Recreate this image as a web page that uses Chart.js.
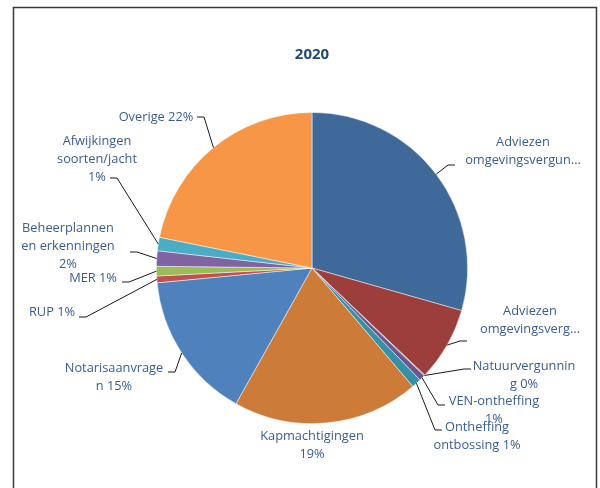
<!DOCTYPE html>
<html>
<head>
<meta charset="utf-8">
<script src="https://cdn.jsdelivr.net/npm/chart.js@4.4.1/dist/chart.umd.min.js"></script>
<style>
  html, body { margin: 0; padding: 0; background: #fff; }
  #wrap { width: 600px; height: 488px; }
</style>
</head>
<body>
<div id="wrap"><canvas id="myChart" width="600" height="488"></canvas></div>
<script>
// categories (full names) and their share in 2020
const categories = [
    'Adviezen omgevingsvergunning (1)', 'Adviezen omgevingsvergunning (2)', 'Natuurvergunning',
    'VEN-ontheffing', 'Ontheffing ontbossing', 'Kapmachtigingen', 'Notarisaanvragen',
    'RUP', 'MER', 'Beheerplannen en erkenningen', 'Afwijkingen soorten/jacht', 'Overige'
];
const values = [29.5, 7.7, 0.1, 0.6, 1.0, 19.4, 15.4, 0.7, 1.0, 1.6, 1.4, 21.9];
// label text as wrapped in the picture, {p} = percentage
const labelLines = [
    ['Adviezen', 'omgevingsvergun...'],
    ['Adviezen', 'omgevingsverg...'],
    ['Natuurvergunnin', 'g {p}'],
    ['VEN-ontheffing', '{p}'],
    ['Ontheffing', 'ontbossing {p}'],
    ['Kapmachtigingen', '{p}'],
    ['Notarisaanvrage', 'n {p}'],
    ['RUP {p}'],
    ['MER {p}'],
    ['Beheerplannen', 'en erkenningen', '{p}'],
    ['Afwijkingen', 'soorten/jacht', '{p}'],
    ['Overige {p}']
];

const colors = ['#3F6999', '#9C3F3C', '#7E9A48', '#6B5690', '#3592A6', '#CC7B38',
                '#4F81BD', '#C0504D', '#9BBB59', '#8064A2', '#4BACC6', '#F79646'];

// label placement: text centre x, first line y, end of leader near the text, side
const labelPos = [
    { x: 523, y: 142, lx: 455, ly: 165, side: 1 },
    { x: 530, y: 311, lx: 467, ly: 341, side: 1 },
    { x: 524, y: 366, lx: 471, ly: 369, side: 1 },
    { x: 494, y: 401, lx: 445, ly: 405, side: 1 },
    { x: 477, y: 427, lx: 442, ly: 430, side: 1 },
    { x: 312, y: 436, lx: null },
    { x: 114, y: 368, lx: 168, ly: 372, side: -1 },
    { x: 52,  y: 312, lx: 79,  ly: 317, side: -1 },
    { x: 93,  y: 278, lx: 122, ly: 282, side: -1 },
    { x: 68,  y: 228, lx: 130, ly: 252, side: -1 },
    { x: 97,  y: 141, lx: 110, ly: 178, side: -1 },
    { x: 156, y: 117, lx: 197, ly: 117, side: -1 }
];

const total = values.reduce((a, b) => a + b, 0);

const pieLabels = {
    id: 'pieLabels',
    beforeDraw(chart) {
        const c = chart.ctx;
        c.save();
        // chart frame (open at the bottom)
        c.strokeStyle = '#3a3a3a';
        c.lineWidth = 1.5;
        c.beginPath();
        c.moveTo(13.5, 488);
        c.lineTo(13.5, 7.5);
        c.lineTo(596.5, 7.5);
        c.lineTo(596.5, 488);
        c.stroke();
        c.restore();
    },
    afterDatasetsDraw(chart) {
        const c = chart.ctx;
        const arcs = chart.getDatasetMeta(0).data;
        c.save();
        c.font = '12.8px "Open Sans"';
        c.textAlign = 'center';
        c.textBaseline = 'middle';
        arcs.forEach(function (arc, i) {
            const p = arc.getProps(['x', 'y', 'startAngle', 'endAngle', 'outerRadius'], true);
            const mid = (p.startAngle + p.endAngle) / 2;
            const pos = labelPos[i];
            if (pos.lx !== null) {
                const ex = p.x + Math.cos(mid) * p.outerRadius;
                const ey = p.y + Math.sin(mid) * p.outerRadius;
                c.strokeStyle = '#1a1a1a';
                c.lineWidth = 1;
                c.beginPath();
                c.moveTo(ex, ey);
                c.lineTo(pos.lx - pos.side * 7, pos.ly);
                c.lineTo(pos.lx, pos.ly);
                c.stroke();
            }
            const pct = Math.round(values[i] / total * 100) + '%';
            c.fillStyle = '#3A5D90';
            labelLines[i].forEach(function (line, k) {
                c.fillText(line.replace('{p}', pct), pos.x, pos.y + k * 18);
            });
        });
        c.restore();
    }
};

new Chart(document.getElementById('myChart'), {
    type: 'pie',
    data: {
        labels: categories,
        datasets: [{
            data: values,
            backgroundColor: colors,
            borderColor: 'rgba(255,255,255,0.6)',
            borderWidth: 0.8
        }]
    },
    options: {
        responsive: false,
        animation: false,
        layout: { padding: { left: 156, right: 132, top: 0, bottom: 64 } },
        plugins: {
            legend: { display: false },
            tooltip: { enabled: false },
            title: {
                display: true,
                text: '2020',
                color: '#1F497D',
                font: { family: 'Open Sans', size: 15, weight: 'bold' },
                padding: { top: 46, bottom: 48 }
            }
        }
    },
    plugins: [pieLabels]
});
</script>
</body>
</html>
